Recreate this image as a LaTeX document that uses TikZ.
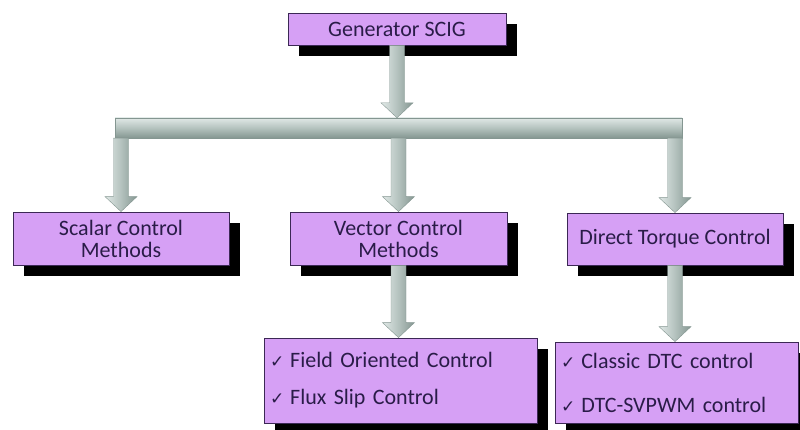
\documentclass[tikz,border=0pt]{standalone}
\usepackage{fontspec}
\setmainfont{Carlito}
\newfontfamily\symfont{DejaVu Sans}
\usetikzlibrary{shadows,calc}

\definecolor{boxfill}{RGB}{214,160,245}
\definecolor{boxline}{RGB}{60,40,85}
\definecolor{boxtext}{RGB}{42,28,72}
\definecolor{arrlight}{RGB}{224,232,230}
\definecolor{arrmid}{RGB}{180,194,190}
\definecolor{arrdark}{RGB}{132,150,145}

\tikzset{
  box/.style={draw=boxline, line width=0.8pt, fill=boxfill, text=boxtext,
    font=\fontsize{22}{22}\selectfont, align=center, inner sep=0pt,
    drop shadow={shadow xshift=11pt, shadow yshift=-11pt, opacity=1, fill=black}},
  listbox/.style={box, align=left, inner xsep=6pt, font=\fontsize{22}{37}\selectfont},
  fatarr/.style={left color=arrlight, right color=arrdark, middle color=arrmid,
    draw=arrdark, line width=0.4pt},
  barstyle/.style={top color=arrlight, bottom color=arrdark, middle color=arrmid,
    draw=arrdark, line width=0.4pt, inner sep=0pt},
}

% check mark in front of a list entry
\newcommand\chk{{\symfont\fontsize{17}{17}\selectfont ✓}\hspace{6pt}}

% broad block arrow from the first point down to the second
\newcommand\blockarrow[2]{%
  \path[fatarr] let \p1=(#1), \p2=(#2) in
    (\x1-7.5pt,\y1) -- (\x1+7.5pt,\y1) -- (\x1+7.5pt,\y2+15pt)
    -- (\x1+16pt,\y2+15pt) -- (\x1,\y2) -- (\x1-16pt,\y2+15pt)
    -- (\x1-7.5pt,\y2+15pt) -- cycle;}

\begin{document}
\begin{tikzpicture}[x=1pt, y=-1pt]
\useasboundingbox (0,0) rectangle (800,430);

% boxes
\node[box, minimum width=218pt, minimum height=32pt] (gen) at (397,29) {Generator SCIG};
\node[barstyle, minimum width=567pt, minimum height=20pt] (bar) at (398.5,128) {};

\node[box, minimum width=216pt, minimum height=53pt] (sc) at (121,238.5) {Scalar Control\\Methods};
\node[box, minimum width=217pt, minimum height=53pt] (vec) at (398.5,238.5) {Vector Control\\Methods};
\node[box, minimum width=216pt, minimum height=52pt] (dtc) at (675,239) {Direct Torque Control};

\node[listbox, text width=261pt, minimum height=85pt] (foc) at (400.5,380.5)
  {\chk Field Oriented Control\\\chk Flux Slip Control};
\node[listbox, text width=231pt, minimum height=81pt] (dtcl) at (676.5,382.5)
  {\chk Classic DTC control\\[7pt]\chk DTC-SVPWM control};

% block arrows
\blockarrow{gen.south}{gen.south |- bar.north}
\blockarrow{sc.north |- bar.south}{sc.north}
\blockarrow{vec.north |- bar.south}{vec.north}
\blockarrow{dtc.north |- bar.south}{dtc.north}
\blockarrow{vec.south}{vec.south |- foc.north}
\blockarrow{dtc.south}{dtc.south |- dtcl.north}
\end{tikzpicture}
\end{document}
